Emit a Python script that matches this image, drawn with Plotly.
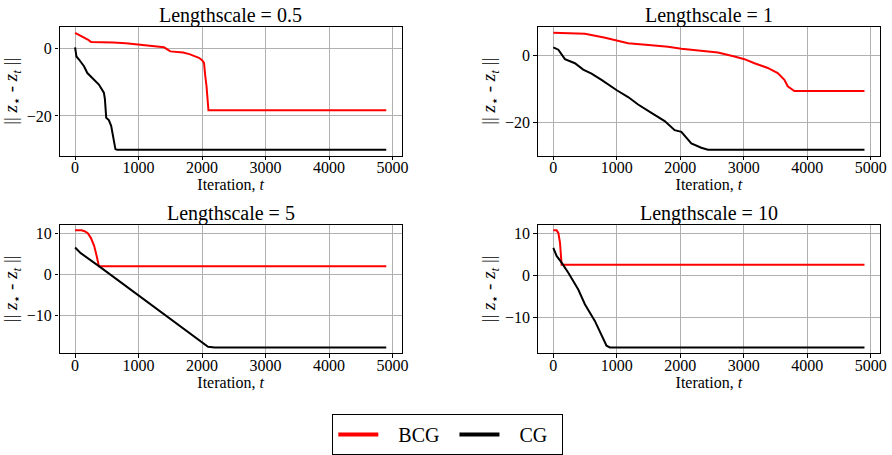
import plotly.graph_objects as go

# ---------------- data ----------------
titles = ["Lengthscale = 0.5", "Lengthscale = 1", "Lengthscale = 5", "Lengthscale = 10"]

# Lengthscale = 0.5
bcg_x_05 = [0, 100, 200, 250, 300, 600, 800, 1000, 1200, 1400, 1500, 1700, 1800, 1900, 1950, 2000, 2030, 2050, 2070, 2100, 4900]
bcg_y_05 = [4.6, 3.7, 2.6, 1.9, 1.9, 1.7, 1.5, 1.1, 0.9, 0.3, -0.9, -1.2, -1.7, -2.4, -2.8, -3.5, -4.3, -8.2, -11.2, -18.3, -18.3]
cg_x_05 = [0, 21, 62, 140, 193, 271, 375, 453, 469, 490, 531, 568, 609, 635, 661, 4900]
cg_y_05 = [0.3, -2.4, -3.3, -5.3, -7.3, -8.7, -10.7, -13.1, -14.9, -20.5, -21.2, -22.9, -26.9, -29.8, -30.0, -30.0]

# Lengthscale = 1
bcg_x_1 = [0, 497, 800, 1000, 1178, 1545, 1806, 2016, 2330, 2592, 2853, 3010, 3168, 3377, 3534, 3639, 3691, 3796, 4900]
bcg_y_1 = [6.6, 6.3, 5.2, 4.3, 3.5, 2.9, 2.5, 1.9, 1.4, 0.8, -0.4, -1.2, -2.4, -3.8, -5.3, -7.3, -9.2, -10.6, -10.6]
cg_x_1 = [0, 79, 183, 340, 471, 602, 759, 1000, 1178, 1335, 1545, 1754, 1911, 2016, 2173, 2330, 2435, 4900]
cg_y_1 = [2.3, 1.6, -1.2, -2.4, -4.3, -5.5, -7.3, -10.4, -12.4, -14.6, -17.1, -19.5, -22.2, -22.7, -26.1, -27.4, -28.0, -28.0]

# Lengthscale = 5
bcg_x_5 = [0, 100, 150, 200, 250, 300, 340, 375, 4900]
bcg_y_5 = [10.8, 10.8, 10.6, 10.1, 8.9, 7.0, 4.5, 2.0, 2.0]
cg_x_5 = [0, 89, 375, 1990, 2094, 2198, 4900]
cg_y_5 = [6.6, 5.2, 2.0, -16.8, -17.8, -17.95, -17.95]

# Lengthscale = 10
bcg_x_10 = [0, 52, 79, 105, 131, 4900]
bcg_y_10 = [10.8, 10.8, 10.2, 7.9, 2.6, 2.6]
cg_x_10 = [0, 52, 131, 236, 393, 497, 654, 759, 838, 890, 4900]
cg_y_10 = [6.6, 4.7, 3.1, 0.7, -3.3, -6.8, -10.8, -14.0, -16.7, -17.1, -17.1]

x_ticks = [0, 1000, 2000, 3000, 4000, 5000]
y_ticks = [[-20, 0], [-20, 0], [-10, 0, 10], [-10, 0, 10]]
series_names = ["BCG", "CG"]
series_colors = ["#ff0000", "black"]

panels = [
    (bcg_x_05, bcg_y_05, cg_x_05, cg_y_05),
    (bcg_x_1, bcg_y_1, cg_x_1, cg_y_1),
    (bcg_x_5, bcg_y_5, cg_x_5, cg_y_5),
    (bcg_x_10, bcg_y_10, cg_x_10, cg_y_10),
]

# ---------------- layout ----------------
W, H = 892, 455
FONT = "Liberation Serif, DejaVu Serif, serif"
NB = "\u00a0"
x_doms = [[60 / W, 405 / W], [542 / W, 887 / W]]
y_doms = [[1 - 156 / H, 1 - 27 / H], [1 - 354 / H, 1 - 225 / H]]

fig = go.Figure()
layout = dict(
    width=W, height=H,
    margin=dict(l=0, r=0, t=0, b=0),
    paper_bgcolor="white", plot_bgcolor="white",
    font=dict(family=FONT, size=16, color="black"),
    showlegend=True,
    legend=dict(orientation="h", x=0.506, y=0.042, xanchor="center", yanchor="middle",
                bordercolor="black", borderwidth=1, font=dict(size=20, family=FONT),
                itemwidth=40, tracegroupgap=0),
)
annotations = []

for i, (bx, by, cx, cy) in enumerate(panels):
    r, c = divmod(i, 2)
    xa = "x" if i == 0 else f"x{i+1}"
    ya = "y" if i == 0 else f"y{i+1}"
    fig.add_trace(go.Scatter(x=bx, y=by, mode="lines", line=dict(color=series_colors[0], width=2),
                             name=series_names[0], showlegend=False, xaxis=xa, yaxis=ya))
    fig.add_trace(go.Scatter(x=cx, y=cy, mode="lines", line=dict(color=series_colors[1], width=2),
                             name=series_names[1], showlegend=False, xaxis=xa, yaxis=ya))
    allx = bx + cx
    ally = by + cy
    xmin, xmax = min(allx), max(allx)
    ymin, ymax = min(ally), max(ally)
    xs, ys = xmax - xmin, ymax - ymin
    axis_common = dict(showline=True, linecolor="black", linewidth=1.2, mirror=True,
                       showgrid=True, gridcolor="#b0b0b0", gridwidth=0.8, zeroline=False,
                       ticks="outside", ticklen=3.5, tickwidth=0.8, tickcolor="black",
                       tickfont=dict(size=16, family=FONT))
    layout["xaxis" if i == 0 else f"xaxis{i+1}"] = dict(
        domain=x_doms[c], anchor=ya, range=[xmin - 0.05 * xs, xmax + 0.05 * xs],
        tickvals=x_ticks, ticklabelstandoff=-6,
        title=dict(text="Iteration, <i>t</i>", font=dict(size=16, family=FONT), standoff=0),
        **axis_common)
    layout["yaxis" if i == 0 else f"yaxis{i+1}"] = dict(
        domain=y_doms[r], anchor=xa, range=[ymin - 0.05 * ys, ymax + 0.05 * ys],
        tickvals=y_ticks[i],
        title=dict(text="|| <i>z</i><sub>⋆</sub> - <i>z<sub>t</sub></i> ||",
                   font=dict(size=19, family=FONT), standoff=4),
        **axis_common)
    annotations.append(dict(text=titles[i], xref="paper", yref="paper",
                            x=sum(x_doms[c]) / 2, y=y_doms[r][1], xanchor="center",
                            yanchor="bottom", yshift=-2, showarrow=False,
                            font=dict(size=20, family=FONT)))

# legend-only entries (thicker sample lines, as in the reference legend)
for nm, col in zip(series_names, series_colors):
    fig.add_trace(go.Scatter(x=[None], y=[None], mode="lines", line=dict(color=col, width=4),
                             name=NB * 3 + nm + NB * 2, showlegend=True))

layout["annotations"] = annotations
fig.update_layout(**layout)
fig.write_html("out.html", config={"displayModeBar": False},
               post_script="document.body.style.margin='0';document.body.style.padding='0';")
